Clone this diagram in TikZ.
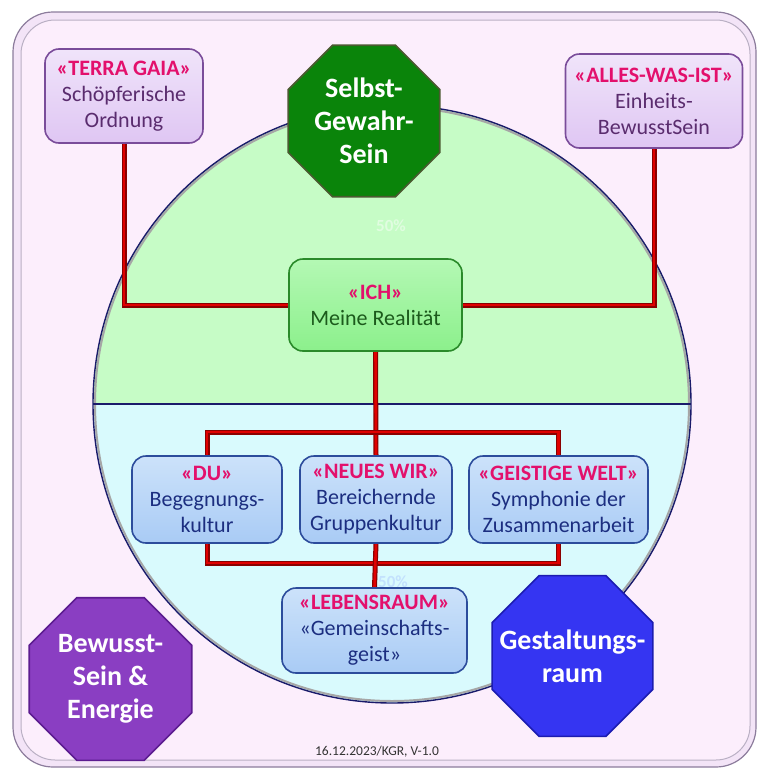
\documentclass[tikz,border=0pt]{standalone}
\usepackage{fontspec}
\setmainfont{Carlito}
\usetikzlibrary{shapes.geometric}

\definecolor{framefill}{HTML}{FCEEFC}
\definecolor{frameband}{HTML}{F3E4F7}
\definecolor{frameline}{HTML}{8C7C9C}
\definecolor{halfgreen}{HTML}{C6FCC6}
\definecolor{halfblue}{HTML}{D9FAFD}
\definecolor{circline}{HTML}{1A1A6A}
\definecolor{lilafill}{HTML}{DFC6F3}
\definecolor{lilatop}{HTML}{F0E4FA}
\definecolor{lilaline}{HTML}{7A4C9A}
\definecolor{lilatext}{HTML}{5A2C6E}
\definecolor{ichfill}{HTML}{8CF08C}
\definecolor{ichtop}{HTML}{B4F8B4}
\definecolor{ichline}{HTML}{2A8A2A}
\definecolor{ichtext}{HTML}{1C5A1C}
\definecolor{bluefill}{HTML}{A9CBF5}
\definecolor{bluetop}{HTML}{CCE2FA}
\definecolor{blueline}{HTML}{2C4C9C}
\definecolor{bluetext}{HTML}{1C2E80}
\definecolor{hdr}{HTML}{E3106C}
\definecolor{octgreen}{HTML}{0A840A}
\definecolor{octgreenline}{HTML}{4A5A30}
\definecolor{octblue}{HTML}{3535F2}
\definecolor{octblueline}{HTML}{1C1CB0}
\definecolor{octlila}{HTML}{8A3EC2}
\definecolor{octlilaline}{HTML}{5C1C90}
\definecolor{linkred}{HTML}{E00000}
\definecolor{linkdark}{HTML}{8A0000}

\pgfdeclarelayer{bg}
\pgfdeclarelayer{links}
\pgfsetlayers{bg,links,main}

\tikzset{
    box/.style={rounded corners=14pt, line width=1.6pt, align=center, inner sep=0pt,
        font=\fontsize{22}{26}\selectfont},
    lilabox/.style={box, draw=lilaline, top color=lilatop, bottom color=lilafill,
        text=lilatext, minimum width=#1, minimum height=94pt},
    ichbox/.style={box, draw=ichline, top color=ichtop, bottom color=ichfill,
        text=ichtext, minimum width=173pt, minimum height=92pt},
    bluebox/.style={box, draw=blueline, top color=bluetop, bottom color=bluefill,
        text=bluetext, minimum width=#1, minimum height=87pt},
    octa/.style={regular polygon, regular polygon sides=8, minimum size=#1,
        line width=1.6pt, inner sep=0pt},
    octtext/.style={text=white, align=center, inner sep=0pt,
        font=\bfseries\fontsize{28}{33}\selectfont},
    link/.style={draw=linkdark, line width=5pt, line join=miter,
        postaction={draw=linkred, line width=2.6pt}}
}
\newcommand{\hdr}[1]{{\bfseries\color{hdr}#1}}

\begin{document}
\begin{tikzpicture}[x=1pt, y=-1pt]
    \useasboundingbox (0,0) rectangle (757,769);

    \begin{pgfonlayer}{bg}
        \filldraw[fill=frameband, draw=frameline, line width=1.2pt, rounded corners=40pt]
            (13,12) rectangle (756,767);
        \filldraw[fill=framefill, draw=frameline!60, line width=1pt, rounded corners=34pt]
            (21,20) rectangle (750,760);
        \begin{scope}
            \clip (392,404) circle (299);
            \fill[halfgreen] (0,0) rectangle (757,404);
            \fill[halfblue] (0,404) rectangle (757,769);
        \end{scope}
        \draw[gray!70, line width=2pt] (392,404) circle (297);
        \draw[circline, line width=1.4pt] (392,404) circle (299);
        \draw[circline, line width=1.4pt] (93,404) -- (691,404);
        \node[text=white!45!halfgreen, font=\bfseries\fontsize{17}{20}\selectfont]
            (pctup) at (391,226) {50\%};
        \node[text=blue!10!halfblue, font=\bfseries\fontsize{17}{20}\selectfont]
            (pctdown) at (393,582) {50\%};
    \end{pgfonlayer}

    \node[lilabox=158pt] (terra) at (124,96)
        {\hdr{«TERRA GAIA»}\\Schöpferische\\Ordnung};
    \node[lilabox=177pt] (alles) at (654,101)
        {\hdr{«ALLES-WAS-IST»}\\Einheits-\\BewusstSein};
    \node[ichbox] (ich) at (375.5,305)
        {\hdr{«ICH»}\\Meine Realität};
    \node[bluebox=150pt] (du) at (207,499.5)
        {\hdr{«DU»}\\Begegnungs-\\kultur};
    \node[bluebox=152pt] (wir) at (376,499.5)
        {\hdr{«NEUES WIR»}\\Bereichernde\\Gruppenkultur};
    \node[bluebox=179pt] (welt) at (558.5,499.5)
        {\hdr{«GEISTIGE WELT»}\\Symphonie der\\Zusammenarbeit};
    \node[bluebox=185pt, minimum height=85pt] (lebens) at (374.5,630.5)
        {\hdr{«LEBENSRAUM»}\\«Gemeinschafts-\\geist»};

    \node[octa=164pt, fill=octgreen, draw=octgreenline] (selbst) at (364,121) {};
    \node[octtext] at (selbst) {Selbst-\\Gewahr-\\Sein};
    \node[octa=174pt, fill=octblue, draw=octblueline] (gestalt) at (572.5,656) {};
    \node[octtext] at (gestalt) {Gestaltungs-\\raum};
    \node[octa=176pt, fill=octlila, draw=octlilaline] (energie) at (110.5,679) {};
    \node[octtext] at (energie) {Bewusst-\\Sein \&\\Energie};

    \node[text=black!80, font=\fontsize{13.5}{16}\selectfont] (stamp) at (377,752)
        {16.12.2023/KGR, V-1.0};

    \coordinate (topbus) at (376,432);
    \coordinate (lowbus) at (376,563);
    \begin{pgfonlayer}{links}
        \draw[link] (terra.south) |- (ich.west);
        \draw[link] (alles.south) |- (ich.east);
        \draw[link] (ich.south) -- (wir.north);
        \draw[link] (du.north) |- (topbus) -| (welt.north);
        \draw[link] (du.south) |- (lowbus) -| (welt.south);
        \draw[link] (wir.south) -- (lebens.north);
    \end{pgfonlayer}
\end{tikzpicture}
\end{document}
